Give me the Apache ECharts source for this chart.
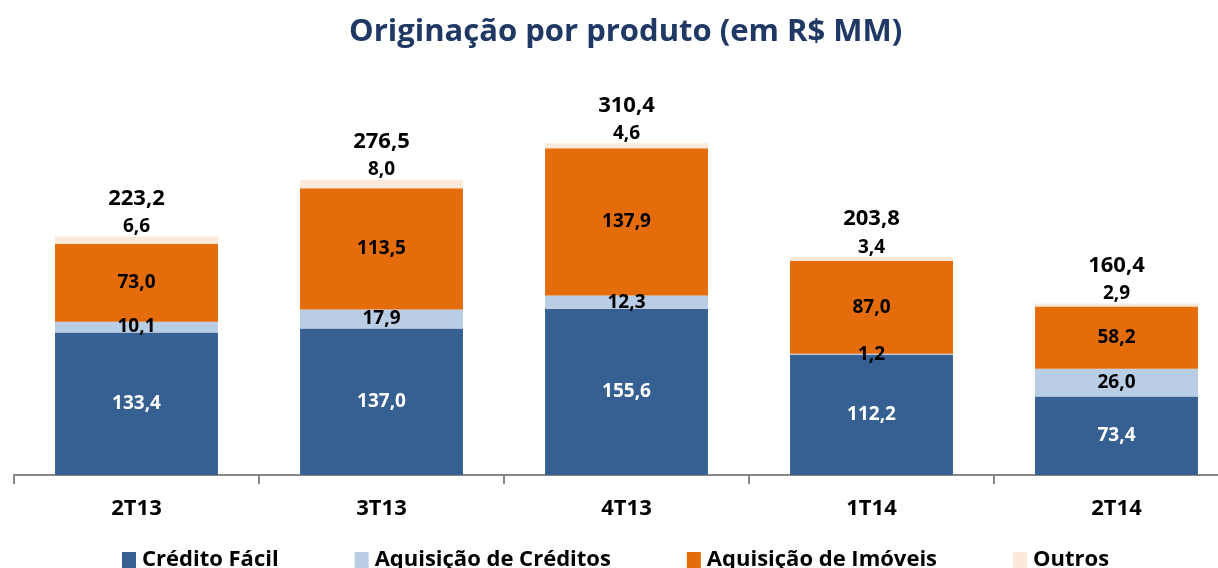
<!DOCTYPE html>
<html>
<head>
<meta charset="utf-8">
<script src="https://cdn.jsdelivr.net/npm/echarts@6/dist/echarts.min.js"></script>
<style>
  html, body { margin: 0; padding: 0; background: #fff; }
  #chart { width: 1218px; height: 568px; }
</style>
</head>
<body>
<div id="chart"></div>
<script>
// dados
var categorias = ["2T13", "3T13", "4T13", "1T14", "2T14"];
var creditoFacil = [133.4, 137.0, 155.6, 112.2, 73.4];
var aquisicaoCreditos = [10.1, 17.9, 12.3, 1.2, 26.0];
var aquisicaoImoveis = [73.0, 113.5, 137.9, 87.0, 58.2];
var outros = [6.6, 8.0, 4.6, 3.4, 2.9];
var totais = [223.2, 276.5, 310.4, 203.8, 160.4];

var fonte = "'Open Sans', 'Noto Sans', sans-serif";

function fmt(v) {
  return v.toFixed(1).replace(".", ",");
}

var chart = echarts.init(document.getElementById("chart"));

var option = {
  animation: false,
  textStyle: { fontFamily: fonte },
  title: {
    text: "Originação por produto (em R$ MM)",
    left: 344,
    top: 12,
    textStyle: {
      color: "#1F3864",
      fontSize: 31,
      fontWeight: "bold",
      fontFamily: fonte,
    },
  },
  legend: {
    bottom: -8,
    left: 117,
    icon: "rect",
    itemWidth: 14,
    itemHeight: 16,
    itemGap: 76,
    textStyle: {
      fontSize: 22,
      fontWeight: "bold",
      color: "#000",
      fontFamily: fonte,
      padding: [0, 0, 0, 1],
    },
    data: ["Crédito Fácil", "Aquisição de Créditos", "Aquisição de Imóveis", "Outros"],
  },
  grid: {
    left: 14,
    top: 101,
    width: 1225,
    height: 374,
    outerBoundsMode: "none",
  },
  xAxis: {
    type: "category",
    data: categorias,
    axisLine: { lineStyle: { color: "#888", width: 2 } },
    axisTick: { show: true, length: 9, lineStyle: { color: "#888", width: 2 } },
    axisLabel: {
      margin: 23,
      fontSize: 22,
      fontWeight: "bold",
      color: "#000",
      fontFamily: fonte,
    },
  },
  yAxis: {
    type: "value",
    min: 0,
    max: 350,
    show: false,
    splitLine: { show: false },
  },
  series: [
    {
      name: "Crédito Fácil",
      type: "bar",
      stack: "total",
      barWidth: "66.5%",
      itemStyle: { color: "#376092" },
      label: {
        show: true,
        position: "inside",
        color: "#fff",
        fontSize: 19,
        fontWeight: "bold",
        fontFamily: fonte,
        formatter: function (p) { return fmt(p.value); },
      },
      data: creditoFacil,
    },
    {
      name: "Aquisição de Créditos",
      type: "bar",
      stack: "total",
      itemStyle: { color: "#B9CDE5" },
      label: {
        show: true,
        position: "inside",
        color: "#000",
        fontSize: 19,
        fontWeight: "bold",
        fontFamily: fonte,
        formatter: function (p) { return fmt(p.value); },
      },
      data: aquisicaoCreditos,
    },
    {
      name: "Aquisição de Imóveis",
      type: "bar",
      stack: "total",
      itemStyle: { color: "#E46C0A" },
      label: {
        show: true,
        position: "inside",
        color: "#000",
        fontSize: 19,
        fontWeight: "bold",
        fontFamily: fonte,
        formatter: function (p) { return fmt(p.value); },
      },
      data: aquisicaoImoveis,
    },
    {
      name: "Outros",
      type: "bar",
      stack: "total",
      itemStyle: { color: "#FDE9D9" },
      label: {
        show: true,
        position: "top",
        distance: 0,
        color: "#000",
        fontFamily: fonte,
        formatter: function (p) {
          return "{t|" + fmt(totais[p.dataIndex]) + "}\n{o|" + fmt(p.value) + "}";
        },
        rich: {
          t: { fontSize: 22, fontWeight: "bold", color: "#000", fontFamily: fonte, lineHeight: 36 },
          o: { fontSize: 19, fontWeight: "bold", color: "#000", fontFamily: fonte, lineHeight: 20 },
        },
      },
      data: outros,
    },
  ],
};

chart.setOption(option);
</script>
</body>
</html>
